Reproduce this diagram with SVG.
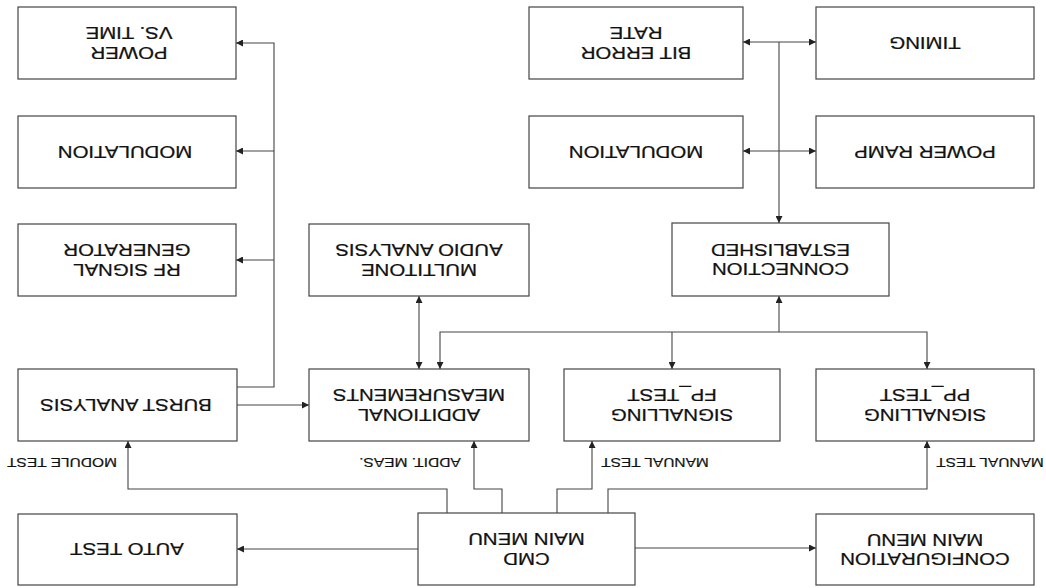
<svg xmlns="http://www.w3.org/2000/svg" width="1046" height="588" viewBox="0 0 1046 588">
<defs>
<style>
.box{fill:#fff;stroke:#444;stroke-width:1.2}
.t{font-family:"Liberation Sans",Arial,sans-serif;font-size:17px;fill:#111;stroke:#111;stroke-width:0.25;text-anchor:middle}
.l{font-family:"Liberation Sans",Arial,sans-serif;font-size:12.5px;fill:#111;stroke:#111;stroke-width:0.2;text-anchor:middle}
.c{fill:none;stroke:#444;stroke-width:1.1}
</style>
<marker id="a" viewBox="0 0 10 10" refX="10" refY="5" markerWidth="9" markerHeight="7" markerUnits="userSpaceOnUse" orient="auto-start-reverse"><path d="M0,0 L10,5 L0,10 z" fill="#222"/></marker>
</defs>
<rect width="1046" height="588" fill="#fff"/>
<g id="connectors">
<path class="c" d="M237,387 H274 V43 H236" marker-end="url(#a)"/>
<path class="c" d="M274,151 H236" marker-end="url(#a)"/>
<path class="c" d="M274,260 H236" marker-end="url(#a)"/>
<path class="c" d="M237,405 H309" marker-end="url(#a)"/>
<path class="c" d="M447,513 V489 H128 V441" marker-end="url(#a)"/>
<path class="c" d="M502,513 V489 H474 V441" marker-end="url(#a)"/>
<path class="c" d="M557,513 V489 H592 V441" marker-end="url(#a)"/>
<path class="c" d="M608,513 V489 H927 V441" marker-end="url(#a)"/>
<path class="c" d="M418,549 H237" marker-end="url(#a)"/>
<path class="c" d="M635,548 H816" marker-end="url(#a)"/>
<path class="c" d="M440,369 V332 H927 V369" marker-start="url(#a)" marker-end="url(#a)"/>
<path class="c" d="M672,332 V369" marker-end="url(#a)"/>
<path class="c" d="M779,332 V296" marker-end="url(#a)"/>
<path class="c" d="M419,296 V369" marker-start="url(#a)" marker-end="url(#a)"/>
<path class="c" d="M779,42 V223" marker-end="url(#a)"/>
<path class="c" d="M743,42 H816" marker-start="url(#a)" marker-end="url(#a)"/>
<path class="c" d="M743,151 H816" marker-start="url(#a)" marker-end="url(#a)"/>
</g>
<g id="labels">
<text class="l" transform="translate(62 463) rotate(180) scale(1.24 1)" y="4.5">MODULE TEST</text>
<text class="l" transform="translate(410 463) rotate(180) scale(1.24 1)" y="4.5">ADDIT. MEAS.</text>
<text class="l" transform="translate(655 463) rotate(180) scale(1.24 1)" y="4.5">MANUAL TEST</text>
<text class="l" transform="translate(990 463) rotate(180) scale(1.24 1)" y="4.5">MANUAL TEST</text>
</g>
<g id="power-vs-time"><rect class="box" x="18" y="7" width="218" height="72"/><g transform="translate(129 43) rotate(180) scale(1.2 1)"><text class="t" y="-4">POWER</text><text class="t" y="16">VS. TIME</text></g></g>
<g id="modulation-left"><rect class="box" x="18" y="116" width="218" height="72"/><g transform="translate(125 152) rotate(180) scale(1.2 1)"><text class="t" y="6">MODULATION</text></g></g>
<g id="rf-signal-generator"><rect class="box" x="18" y="224" width="218" height="72"/><g transform="translate(127 260) rotate(180) scale(1.2 1)"><text class="t" y="-4">RF SIGNAL</text><text class="t" y="16">GENERATOR</text></g></g>
<g id="burst-analysis"><rect class="box" x="18" y="369" width="219" height="72"/><g transform="translate(126 405) rotate(180) scale(1.2 1)"><text class="t" y="6">BURST ANALYSIS</text></g></g>
<g id="auto-test"><rect class="box" x="18" y="514" width="219" height="71"/><g transform="translate(127 549.5) rotate(180) scale(1.2 1)"><text class="t" y="6">AUTO TEST</text></g></g>
<g id="multitone"><rect class="box" x="309" y="224" width="220" height="72"/><g transform="translate(419 260) rotate(180) scale(1.2 1)"><text class="t" y="-4">MULTITONE</text><text class="t" y="16">AUDIO ANALYSIS</text></g></g>
<g id="additional-measurements"><rect class="box" x="309" y="369" width="220" height="72"/><g transform="translate(419 405) rotate(180) scale(1.2 1)"><text class="t" y="-4">ADDITIONAL</text><text class="t" y="16">MEASUREMENTS</text></g></g>
<g id="cmd-main-menu"><rect class="box" x="418" y="513" width="217" height="72"/><g transform="translate(526.5 549) rotate(180) scale(1.2 1)"><text class="t" y="-4">CMD</text><text class="t" y="16">MAIN MENU</text></g></g>
<g id="signalling-fp"><rect class="box" x="564" y="369" width="216" height="72"/><g transform="translate(672 405) rotate(180) scale(1.2 1)"><text class="t" y="-4">SIGNALLING</text><text class="t" y="16">FP_TEST</text></g></g>
<g id="connection-established"><rect class="box" x="672" y="223" width="217" height="73"/><g transform="translate(780.5 259.5) rotate(180) scale(1.2 1)"><text class="t" y="-4">CONNECTION</text><text class="t" y="16">ESTABLISHED</text></g></g>
<g id="bit-error-rate"><rect class="box" x="529" y="7" width="214" height="72"/><g transform="translate(636 43) rotate(180) scale(1.2 1)"><text class="t" y="-4">BIT ERROR</text><text class="t" y="16">RATE</text></g></g>
<g id="modulation-right"><rect class="box" x="529" y="116" width="214" height="72"/><g transform="translate(636 152) rotate(180) scale(1.2 1)"><text class="t" y="6">MODULATION</text></g></g>
<g id="timing"><rect class="box" x="816" y="7" width="218" height="72"/><g transform="translate(925 43) rotate(180) scale(1.2 1)"><text class="t" y="6">TIMING</text></g></g>
<g id="power-ramp"><rect class="box" x="816" y="116" width="218" height="72"/><g transform="translate(925 152) rotate(180) scale(1.2 1)"><text class="t" y="6">POWER RAMP</text></g></g>
<g id="signalling-pp"><rect class="box" x="816" y="369" width="218" height="72"/><g transform="translate(925 405) rotate(180) scale(1.2 1)"><text class="t" y="-4">SIGNALLING</text><text class="t" y="16">PP_TEST</text></g></g>
<g id="configuration-main-menu"><rect class="box" x="816" y="514" width="218" height="71"/><g transform="translate(925 549.5) rotate(180) scale(1.2 1)"><text class="t" y="-4">CONFIGURATION</text><text class="t" y="16">MAIN MENU</text></g></g>
</svg>
